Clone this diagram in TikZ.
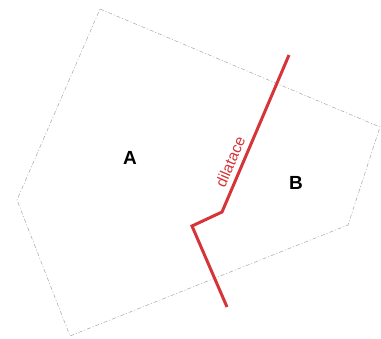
\documentclass[tikz,border=0pt]{standalone}
\usepackage{fontspec}
\setmainfont{Liberation Sans}
\usetikzlibrary{positioning}

\definecolor{dilred}{RGB}{214,52,56}

\begin{document}
\begin{tikzpicture}[x=1pt, y=-1pt,
		outline/.style={gray!70, line width=0.5pt, dash pattern=on 4pt off 2pt on 1pt off 2pt},
		joint/.style={dilred, line width=3pt, line join=miter},
		blocklabel/.style={font=\fontsize{19}{19}\selectfont\bfseries, text=black}]
			\useasboundingbox (0,0) rectangle (381,339);

			% outline of the building
			\draw [outline] (100,9) -- (380,127) -- (348,225) -- (70,336) -- (17,200) -- cycle;

			% the expansion joint
			\coordinate (jtop) at (289,55);
			\coordinate (jkink) at (222,212);
			\coordinate (jstep) at (192,226);
			\coordinate (jend) at (227,307);
			\draw [joint] (jtop) -- (jkink) -- (jstep) -- (jend);
			\path (jkink) -- (jtop) node [pos=0.29, sloped, above=3pt, dilred, font=\fontsize{15.5}{15.5}\selectfont] (dil) {dilatace};

			% the two parts
			\node [blocklabel] (partA) at (130,158) {A};
			\node [blocklabel] (partB) at (296,183) {B};
		\end{tikzpicture}
\end{document}
